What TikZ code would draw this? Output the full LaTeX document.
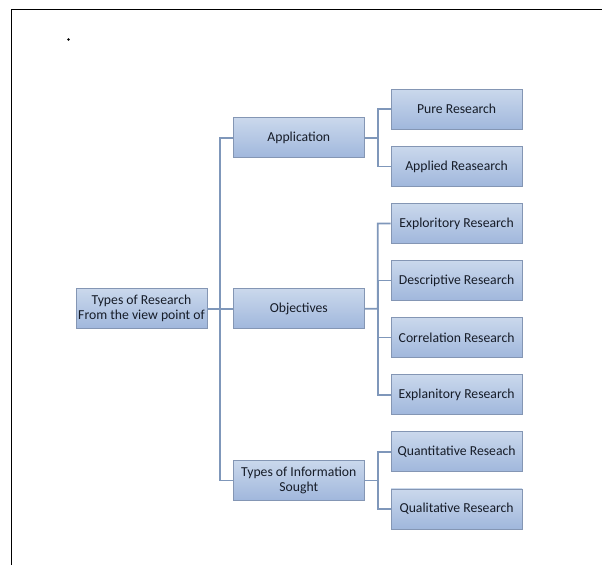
\documentclass[tikz,border=0pt]{standalone}
\usepackage{fontspec}
\setmainfont{Carlito}
\usetikzlibrary{positioning, calc}
\definecolor{boxtop}{HTML}{CAD8EC}
\definecolor{boxbottom}{HTML}{A0B7DC}
\definecolor{boxline}{HTML}{8496B4}
\definecolor{linecol}{HTML}{7F97BA}
\definecolor{textcol}{HTML}{161C28}
\tikzstyle{box} = [rectangle, minimum width=131pt, minimum height=40pt, text centered, align=center, draw=boxline, line width=0.8pt, top color=boxtop, bottom color=boxbottom, text=textcol, font=\fontsize{13.7}{15}\selectfont, inner sep=1pt]
\tikzstyle{branch} = [line width=1.6pt, draw=linecol]

\begin{document}
\begin{tikzpicture}[x=1pt, y=1pt]
                \useasboundingbox (0,0) rectangle (602,-565);
                % page frame and the lone dot
                \draw [line width=1.6pt] (11.5,-565) -- (11.5,-9.5) -- (602,-9.5);
                \fill (68.5,-39.5) circle (1.3pt);

                \node (root) [box] at (141.5,-308.7) {Types of Research\\From the view point of};
                \node (obj) [box, right=25.5pt of root] {Objectives};
                \node (desc) [box, right=26pt of obj, yshift=28.15pt] {Descriptive Research};
                \node (expo) [box, above=16.3pt of desc] {Exploritory Research};
                \node (appl) [box, above=16.3pt of expo] {Applied Reasearch};
                \node (pure) [box, above=16.3pt of appl] {Pure Research};
                \node (corr) [box, below=16.3pt of desc] {Correlation Research};
                \node (expl) [box, below=16.3pt of corr] {Explanitory Research};
                \node (quan) [box, below=16.3pt of expl] {Quantitative Reseach};
                \node (qual) [box, below=16.3pt of quan] {Qualitative Research};
                \node (app) [box, left=26pt of $(pure.west)!0.5!(appl.west)$] {Application};
                \node (info) [box, left=26pt of $(quan.west)!0.5!(qual.west)$] {Types of Information\\Sought};

                \coordinate (tk) at ($(root.east)!0.5!(obj.west)$);
                \coordinate (tapp) at ($(app.east)!0.5!(pure.west |- app.east)$);
                \coordinate (tobj) at ($(obj.east)!0.5!(desc.west |- obj.east)$);
                \coordinate (tinfo) at ($(info.east)!0.5!(quan.west |- info.east)$);

                \draw [branch] (root) -- (obj);
                \draw [branch] (app.west) -- (app.west -| tk) -- (info.west -| tk) -- (info.west);
                \draw [branch] (app.east) -- (tapp) |- (pure.west);
                \draw [branch] (tapp) |- (appl.west);
                \draw [branch] (obj.east) -- (tobj) |- (expo.west);
                \draw [branch] (tobj) |- (desc.west);
                \draw [branch] (tobj) |- (corr.west);
                \draw [branch] (tobj) |- (expl.west);
                \draw [branch] (info.east) -- (tinfo) |- (quan.west);
                \draw [branch] (tinfo) |- (qual.west);
            \end{tikzpicture}
\end{document}
